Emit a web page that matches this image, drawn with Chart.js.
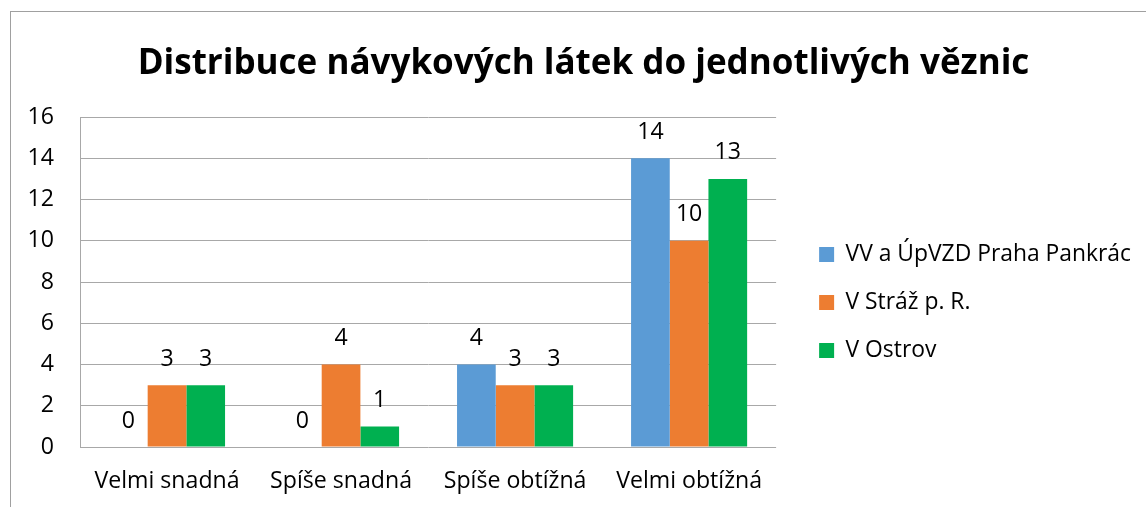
<!DOCTYPE html>
<html><head><meta charset="utf-8">
<script src="https://cdn.jsdelivr.net/npm/chart.js@4"></script>
<style>
html,body{margin:0;padding:0;background:#fff;}
#wrap{position:relative;width:1146px;height:507px;}
#frame{position:absolute;left:10px;top:11px;width:1200px;height:600px;border-left:1px solid #a0a0a0;border-top:1px solid #a0a0a0;}
canvas{position:absolute;left:0;top:0;}
</style></head>
<body>
<div id="wrap"><div id="frame"></div><canvas id="c" width="1146" height="507"></canvas></div>
<script>
const titleText = 'Distribuce návykových látek do jednotlivých věznic';
const categories = ['Velmi snadná', 'Spíše snadná', 'Spíše obtížná', 'Velmi obtížná'];
const seriesNames = ['VV a ÚpVZD Praha Pankrác', 'V Stráž p. R.', 'V Ostrov'];
const pankrac = [0, 0, 4, 14];
const straz = [3, 4, 3, 10];
const ostrov = [3, 1, 3, 13];
const seriesColors = ['#5B9BD5', '#ED7D31', '#00B050'];
const yTicks = [0, 2, 4, 6, 8, 10, 12, 14, 16];

const FAMILY = '"Open Sans", "Noto Sans", sans-serif';

// fit font sizes so text widths match the reference
const mctx = document.createElement('canvas').getContext('2d');
function width100(text, weight) {
  mctx.font = weight + ' 100px ' + FAMILY;
  return mctx.measureText(text).width;
}
const titleSize = 100 * 892 / width100(titleText, 'bold');
const tickSize = 100 * 146 / width100('Velmi obtížná', 'normal');
// legend: box at 820 (15px wide), text ends at 1131, gap box->text = fontSize/2
const kLeg = 100 / width100(seriesNames[0], 'normal');
const legendTextW = 297 / (1 + kLeg / 2);
const legendSize = kLeg * legendTextW;
const LP = 48 - legendSize;           // row pitch 48px
const GAP = 43 - LP;                  // chart right 777, box left 820

const labelPlugin = {
  id: 'valueLabels',
  afterDatasetsDraw(chart) {
    const ctx = chart.ctx;
    ctx.save();
    ctx.font = tickSize + 'px ' + FAMILY;
    ctx.fillStyle = '#000';
    ctx.textAlign = 'center';
    ctx.textBaseline = 'middle';
    chart.data.datasets.forEach((ds, i) => {
      const meta = chart.getDatasetMeta(i);
      meta.data.forEach((el, j) => {
        ctx.fillText(String(ds.data[j]), el.x, el.y - 26);
      });
    });
    ctx.restore();
  }
};

// centre the title over the whole (partly cropped) frame, as in the reference
const titleShift = {
  id: 'titleShift',
  afterLayout(chart) {
    if (chart.titleBlock) { chart.titleBlock.left += 13; chart.titleBlock.right += 13; }
  }
};

new Chart(document.getElementById('c'), {
  type: 'bar',
  data: {
    labels: categories,
    datasets: [pankrac, straz, ostrov].map((d, i) => ({
      label: seriesNames[i],
      data: d,
      backgroundColor: seriesColors[i],
      borderWidth: 0,
      barPercentage: 1.0,
      categoryPercentage: 0.667,
      yAxisID: 'y'
    }))
  },
  options: {
    responsive: false,
    animation: false,
    devicePixelRatio: 1,
    layout: { padding: { left: 0, right: 5, top: 43, bottom: 0 } },
    plugins: {
      title: {
        display: true,
        text: titleText,
        color: '#000',
        font: { family: FAMILY, size: titleSize, weight: 'bold' },
        padding: { top: 0, bottom: 32 }
      },
      legend: {
        position: 'right',
        fullSize: false,
        maxWidth: 420,
        title: { display: true, text: '', font: { size: 10 }, padding: { top: 29, bottom: 0 } },
        labels: {
          boxWidth: 15,
          boxHeight: 15,
          padding: LP,
          color: '#000',
          font: { family: FAMILY, size: legendSize }
        }
      },
      tooltip: { enabled: false }
    },
    scales: {
      x: {
        grid: { display: false, drawTicks: false },
        border: { display: false },
        ticks: { color: '#000', font: { family: FAMILY, size: tickSize }, padding: 21 },
        afterFit(a) { a.height = 60; }
      },
      y: {
        min: 0, max: 16,
        afterBuildTicks(axis) { axis.ticks = yTicks.map(v => ({ value: v })); },
        grid: { color: '#a8a8a8', drawTicks: false, lineWidth: 1 },
        border: { display: true, color: '#a8a8a8' },
        ticks: { color: '#000', font: { family: FAMILY, size: tickSize }, padding: 26 },
        afterFit(a) { a.width = 80; }
      },
      gap: {
        position: 'right',
        display: true,
        grid: { display: false, drawTicks: false },
        border: { display: false },
        ticks: { display: false },
        afterFit(a) { a.width = GAP; }
      }
    }
  },
  plugins: [labelPlugin, titleShift]
});
</script>
</body></html>
